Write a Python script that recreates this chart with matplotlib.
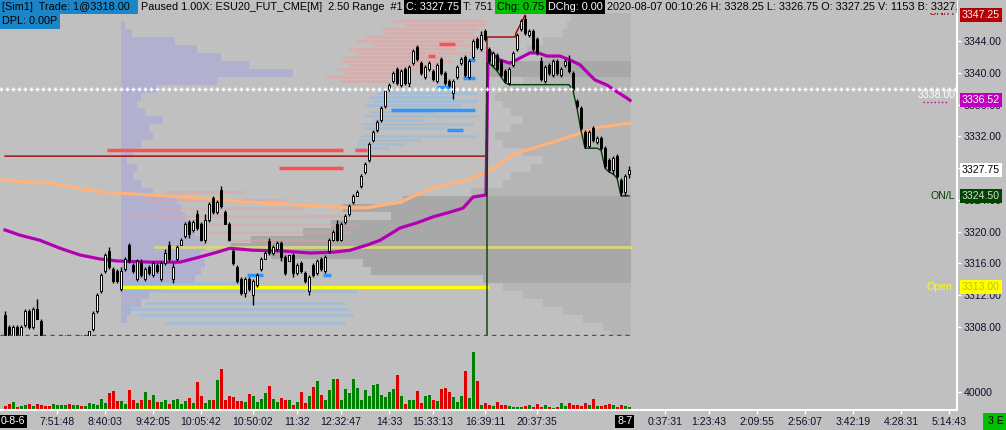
"""Range-bar chart of ESU20 with profiles, VWAP and volume pane"""
import numpy as np
import matplotlib
matplotlib.use("Agg")
import matplotlib.pyplot as plt
import matplotlib.transforms as mtransforms
from matplotlib.patches import Rectangle

plt.rcParams['font.family'] = ['Liberation Sans', 'DejaVu Sans']
plt.rcParams['font.size'] = 7.6

# ---------------- data ----------------
bar_open = [3309.5, 3308.0, 3306.5, 3308.0, 3306.5, 3308.25, 3310.0, 3308.0, 3310.25, 3308.75,
            3306.5, 3304.5, 3302.5, 3304.5, 3304.5, 3304.5, 3306.5, 3304.0, 3304.25, 3306.5,
            3304.5, 3305.25, 3307.75, 3310.0, 3312.5, 3315.0, 3317.5, 3315.25, 3315.0, 3312.75,
            3315.25, 3318.25, 3315.75, 3314.0, 3316.0, 3314.0, 3315.5, 3314.5, 3315.75, 3314.0,
            3316.0, 3318.25, 3314.0, 3316.5, 3318.25, 3319.5, 3321.25, 3320.25, 3322.25, 3321.0,
            3319.0, 3321.5, 3324.25, 3322.5, 3325.25, 3322.5, 3321.0, 3317.5, 3315.5, 3314.0,
            3312.25, 3314.0, 3312.0, 3313.25, 3315.25, 3316.5, 3318.75, 3317.25, 3317.75, 3318.5,
            3316.75, 3316.25, 3317.0, 3314.75, 3316.0, 3314.75, 3312.5, 3315.75, 3314.75, 3316.5,
            3315.0, 3317.5, 3319.0, 3321.0, 3319.0, 3321.25, 3322.25, 3323.75, 3324.5, 3325.75,
            3327.5, 3329.0, 3331.5, 3332.75, 3334.0, 3335.75, 3338.0, 3339.0, 3340.5, 3338.5,
            3340.5, 3338.75, 3341.25, 3343.25, 3341.25, 3339.5, 3340.5, 3340.25, 3339.0, 3341.75,
            3340.0, 3339.0, 3337.5, 3339.5, 3341.25, 3342.0, 3339.5, 3342.0, 3344.25, 3343.0,
            3345.25, 3343.0, 3341.0, 3342.25, 3341.5, 3340.25, 3338.75, 3341.0, 3343.0, 3345.5,
            3346.75, 3344.75, 3345.25, 3344.25, 3341.5, 3339.0, 3341.0, 3339.75, 3341.5, 3339.75,
            3341.0, 3341.5, 3340.0, 3336.5, 3335.5, 3332.5, 3330.75, 3333.0, 3331.25, 3331.75,
            3330.5, 3329.0, 3327.75, 3329.5, 3326.5, 3325.0, 3327.25]
bar_high = [3310.0, 3308.25, 3308.25, 3308.25, 3308.25, 3310.25, 3310.25, 3310.5, 3311.5, 3309.0,
            3306.75, 3304.75, 3304.75, 3306.5, 3306.75, 3307.0, 3306.5, 3306.25, 3306.75, 3307.0,
            3306.5, 3307.5, 3310.0, 3312.25, 3314.75, 3317.25, 3318.0, 3315.5, 3315.25, 3315.5,
            3316.75, 3318.5, 3316.0, 3316.5, 3316.5, 3315.5, 3315.75, 3316.25, 3316.0, 3316.25,
            3317.75, 3318.75, 3316.0, 3318.25, 3319.25, 3321.25, 3321.5, 3321.5, 3322.75, 3321.25,
            3322.25, 3323.75, 3324.5, 3324.0, 3325.75, 3322.75, 3321.25, 3317.75, 3315.75, 3314.25,
            3314.25, 3314.25, 3314.0, 3314.75, 3316.75, 3317.5, 3319.25, 3318.25, 3318.75, 3318.75,
            3317.0, 3317.0, 3317.25, 3316.0, 3316.25, 3315.0, 3314.5, 3316.0, 3316.5, 3316.75,
            3317.0, 3319.25, 3320.25, 3321.5, 3321.25, 3322.25, 3323.5, 3324.75, 3325.25, 3327.25,
            3328.75, 3331.25, 3332.75, 3334.0, 3335.75, 3338.0, 3338.75, 3340.25, 3340.75, 3340.5,
            3340.75, 3341.0, 3343.0, 3343.5, 3341.5, 3341.0, 3341.5, 3340.5, 3341.25, 3342.0,
            3340.25, 3339.25, 3339.25, 3341.0, 3342.0, 3342.25, 3341.75, 3344.25, 3344.5, 3345.25,
            3345.5, 3343.25, 3342.75, 3342.5, 3341.75, 3340.5, 3340.75, 3342.75, 3345.0, 3346.75,
            3347.25, 3345.5, 3345.5, 3344.5, 3342.0, 3341.0, 3341.25, 3341.75, 3341.75, 3340.75,
            3341.75, 3342.25, 3340.25, 3336.75, 3335.75, 3332.75, 3332.75, 3333.25, 3332.0, 3332.0,
            3330.75, 3329.25, 3329.5, 3329.75, 3326.75, 3327.25, 3328.25]
bar_low = [3306.75, 3306.25, 3306.25, 3306.25, 3306.25, 3308.0, 3307.75, 3307.75, 3309.0, 3306.5,
           3304.25, 3302.25, 3302.25, 3304.0, 3304.25, 3304.5, 3304.0, 3303.75, 3304.25, 3304.25,
           3304.25, 3305.0, 3307.5, 3309.75, 3312.25, 3314.75, 3315.25, 3313.5, 3313.5, 3312.5,
           3315.0, 3316.0, 3314.75, 3313.75, 3314.25, 3313.75, 3314.5, 3314.25, 3314.75, 3313.75,
           3315.75, 3316.25, 3313.5, 3316.25, 3318.25, 3319.25, 3319.25, 3320.0, 3320.25, 3318.75,
           3318.5, 3321.25, 3322.25, 3322.25, 3323.0, 3321.0, 3318.75, 3315.75, 3313.5, 3312.0,
           3311.75, 3312.5, 3310.75, 3313.0, 3315.0, 3316.5, 3317.0, 3317.0, 3317.5, 3316.25,
           3314.5, 3316.25, 3314.25, 3314.5, 3314.75, 3313.5, 3312.0, 3314.25, 3314.5, 3315.0,
           3314.75, 3317.25, 3318.75, 3318.75, 3318.75, 3321.0, 3322.0, 3323.5, 3324.5, 3325.5,
           3327.25, 3328.75, 3331.25, 3332.5, 3333.75, 3335.5, 3337.75, 3338.75, 3338.5, 3338.25,
           3338.5, 3338.25, 3341.0, 3341.5, 3339.75, 3339.25, 3340.25, 3339.0, 3338.75, 3339.75,
           3338.5, 3338.25, 3336.75, 3339.25, 3341.0, 3339.5, 3339.25, 3341.75, 3343.0, 3342.75,
           3344.0, 3341.25, 3340.75, 3340.25, 3339.5, 3338.75, 3338.5, 3340.75, 3342.75, 3345.25,
           3344.75, 3344.5, 3342.75, 3342.25, 3339.0, 3338.75, 3339.75, 3339.5, 3339.75, 3339.5,
           3340.75, 3340.0, 3337.75, 3335.5, 3332.75, 3330.5, 3330.5, 3331.25, 3331.0, 3330.25,
           3328.0, 3327.5, 3327.25, 3326.75, 3324.5, 3324.5, 3326.75]
bar_close = [3307.0, 3306.5, 3308.0, 3306.5, 3308.0, 3310.0, 3308.0, 3310.25, 3309.0, 3306.5,
             3304.5, 3302.25, 3304.5, 3306.25, 3306.5, 3306.75, 3304.25, 3306.0, 3306.5, 3304.5,
             3306.5, 3307.5, 3309.75, 3312.0, 3314.5, 3317.0, 3315.5, 3313.75, 3313.75, 3315.0,
             3316.5, 3316.25, 3315.0, 3316.25, 3314.5, 3315.25, 3314.75, 3316.0, 3315.0, 3316.0,
             3317.25, 3316.5, 3315.5, 3318.0, 3319.0, 3321.0, 3319.75, 3321.25, 3320.5, 3319.0,
             3321.5, 3323.5, 3322.5, 3323.75, 3323.25, 3321.0, 3319.0, 3316.0, 3313.75, 3312.25,
             3314.0, 3312.75, 3313.75, 3314.5, 3316.5, 3317.25, 3317.25, 3318.0, 3318.5, 3316.75,
             3314.75, 3317.0, 3314.75, 3315.75, 3315.0, 3313.75, 3314.25, 3314.5, 3316.25, 3315.25,
             3316.75, 3319.0, 3320.0, 3319.0, 3321.0, 3322.0, 3323.25, 3324.5, 3325.0, 3327.0,
             3328.5, 3331.0, 3332.5, 3333.75, 3335.5, 3337.75, 3338.5, 3340.0, 3338.75, 3340.25,
             3338.75, 3340.75, 3342.75, 3341.75, 3340.0, 3340.75, 3341.25, 3339.25, 3341.0, 3340.0,
             3338.75, 3338.5, 3339.0, 3340.75, 3341.75, 3339.75, 3341.5, 3344.0, 3343.25, 3344.75,
             3344.25, 3341.5, 3342.5, 3340.5, 3339.75, 3339.0, 3340.5, 3342.5, 3344.75, 3346.5,
             3345.0, 3345.25, 3343.0, 3342.5, 3339.25, 3340.75, 3340.0, 3341.5, 3340.0, 3340.5,
             3341.5, 3340.25, 3338.0, 3335.75, 3333.0, 3330.75, 3332.5, 3331.5, 3331.75, 3330.5,
             3328.25, 3327.75, 3329.25, 3327.0, 3325.0, 3327.0, 3327.75]
volume = [6900, 11500, 16100, 4600, 6900, 9200, 11500, 6900, 11500, 9200,
          6900, 6900, 11500, 9200, 9200, 9200, 11500, 9200, 9200, 6900,
          6900, 13800, 11500, 9200, 23000, 13800, 36800, 41400, 18400, 18400,
          11500, 43700, 20700, 13800, 20700, 39100, 20700, 32200, 16100, 16100,
          20700, 11500, 20700, 23000, 11500, 18400, 25300, 13800, 62100, 29900,
          13800, 20700, 20700, 66700, 92000, 20700, 29900, 27600, 18400, 18400,
          16100, 34500, 29900, 16100, 23000, 36800, 52900, 23000, 16100, 25300,
          20700, 20700, 9200, 16100, 39100, 13800, 29900, 50600, 64400, 32200,
          20700, 43700, 69000, 69000, 20700, 46000, 36800, 69000, 48300, 20700,
          43700, 29900, 55200, 57500, 32200, 27600, 39100, 46000, 78200, 29900,
          11500, 20700, 20700, 41400, 13800, 29900, 32200, 20700, 18400, 46000,
          48300, 39100, 27600, 16100, 29900, 87400, 25300, 131100, 64400, 9200,
          13800, 9200, 6900, 16100, 9200, 9200, 6900, 4600, 4600, 4600,
          6900, 9200, 4600, 11500, 4600, 9200, 4600, 2300, 4600, 13800,
          6900, 13800, 9200, 9200, 6900, 13800, 9200, 23000, 6900, 6900,
          9200, 11500, 9200, 4600, 9200, 6900, 4600]

session_break = 120.5

# slow average (peach) and VWAP (magenta), sampled at bar index
avg_idx = [-1.25, 11.25, 23.75, 36.25, 48.75, 61.25, 73.75, 85.5, 90.5, 98.75,
           107, 115.5, 120.5, 128, 136.25, 144.5, 148.75, 156.25]
avg_px = [3326.5, 3326.1, 3325.0, 3324.6, 3324.2, 3323.7, 3323.35, 3323.0, 3323.0, 3323.7,
          3325.5, 3326.5, 3327.5, 3329.9, 3331.15, 3332.5, 3333.15, 3333.65]
vwap_idx = [0, 3.75, 8.75, 13.75, 18.75, 23.75, 28, 36.25, 43.75, 48.75, 53, 56.25, 62,
            69.5, 76.25, 82, 86.25, 90.5, 93.75, 98.75, 103, 107, 111.25, 114.5, 117, 120.25,
            120.75, 121.25, 123.75, 126.25, 128.75, 131.25, 133.25, 135.5, 138.75, 141.25,
            143.75, 146.25, 147.5, 150.5, 153, 155.5, 156.25]
vwap_px = [3320.2, 3319.55, 3318.9, 3317.9, 3317.05, 3316.55, 3316.3, 3316.15, 3316.15, 3316.8,
           3317.4, 3317.9, 3317.65, 3317.55, 3317.3, 3317.4, 3317.65, 3318.3, 3318.9, 3320.45,
           3321.1, 3321.85, 3322.45, 3322.95, 3324.35, 3324.6, 3342.6, 3342.6, 3341.6, 3341.2,
           3341.85, 3342.5, 3342.5, 3342.1, 3342.1, 3341.6, 3341.0, 3339.7, 3339.1, 3338.45,
           3337.6, 3336.8, 3336.52]

# dark red high tracker
high_idx = [0, 120.25, 120.25, 120.5, 120.5, 127.5, 127.75, 129.5, 130]
high_px = [3329.5, 3329.5, 3331.25, 3331.25, 3344.5, 3344.5, 3345.0, 3346.75, 3347.25]

# key levels
open_px = 3313.00
trade_px = 3318.00
ref_px = 3338.00
on_high = 3347.25
on_low = 3324.50
vwap_last = 3336.52
last_px = 3327.75

# prior session volume profile (left anchored)
prior_prof_px = [3346, 3345, 3344, 3343, 3342, 3341, 3340, 3339, 3338, 3337, 3336, 3335, 3334,
                 3333, 3332, 3331, 3330, 3329, 3328, 3327, 3326, 3325, 3324, 3323, 3322, 3321,
                 3320, 3319, 3318, 3317, 3316, 3315, 3314, 3313, 3312, 3311, 3310, 3309]
prior_prof_vol = [1, 2.75, 13.5, 19, 25, 32, 43, 24, 9, 5, 4, 6, 10.5,
                  7, 8, 5, 3, 1.5, 4, 3, 5, 8, 14, 15, 16, 17,
                  18.5, 20, 21, 20, 21, 20, 18.5, 10, 7, 5, 2.5, 1.5]

# composite profile (right anchored), with value area flag
comp_prof_px = [3347, 3346, 3345, 3344, 3343, 3342, 3341, 3340, 3339, 3338, 3337, 3336, 3335,
                3334, 3333, 3332, 3331, 3330, 3329, 3328, 3327, 3326, 3325, 3324, 3323, 3322,
                3321, 3320, 3319, 3318, 3317, 3316, 3315, 3314, 3313, 3312, 3311, 3310, 3309,
                3308, 3307]
comp_prof_vol = [15, 16, 17, 22, 26, 22, 36, 36, 27, 32, 34, 32, 30,
                 27, 30, 34, 32, 27, 22, 25, 30, 32, 40, 57, 72, 60,
                 75, 82, 95, 100, 90, 67, 65, 37, 32, 27, 22, 17, 12,
                 7, 5]
comp_prof_va = [0, 0, 0, 0, 0, 0, 1, 1, 0, 0, 0, 0, 0,
                0, 0, 0, 0, 0, 0, 0, 0, 0, 0, 1, 1, 1,
                1, 1, 1, 1, 1, 1, 1, 1, 0, 0, 0, 0, 0,
                0, 0]

# faint order-flow history rows: (price, from bar, to bar)
ask_rows = [(3346.5, 97, 120), (3346.0, 100, 120), (3345.5, 94, 118), (3345.0, 95, 117),
            (3344.5, 90, 119), (3344.0, 88, 115), (3343.5, 92, 118), (3343.0, 86, 113),
            (3342.5, 88, 117), (3342.0, 85, 110), (3341.5, 84, 112), (3341.0, 86, 108),
            (3340.5, 83, 104), (3340.0, 85, 100), (3339.5, 80, 98), (3339.0, 84, 96),
            (3325.0, 40, 60), (3324.0, 35, 70), (3323.0, 38, 75), (3322.0, 30, 85),
            (3321.0, 45, 88), (3320.0, 50, 86), (3319.0, 55, 85)]
bid_rows = [(3337.5, 93, 118), (3337.0, 91, 112), (3336.5, 92, 118), (3336.0, 90, 114),
            (3335.0, 91, 108), (3334.5, 90, 118), (3334.0, 92, 105), (3333.5, 89, 117),
            (3333.0, 90, 110), (3332.0, 89, 118), (3331.5, 88, 104), (3331.0, 88, 100),
            (3330.5, 87, 96), (3313.5, 29, 60), (3312.5, 30, 88), (3311.0, 35, 85),
            (3310.25, 29, 86), (3309.5, 33, 87), (3308.5, 40, 85)]
ask_marks = [(3330.25, 25.5, 84.5), (3330.25, 87.5, 90.5), (3328.0, 68.5, 84.5),
             (3343.6, 108.5, 112.5), (3342.1, 105.75, 107.5)]
bid_marks = [(3335.25, 96.5, 117.5), (3332.75, 110.5, 114.5), (3339.3, 114.5, 117.5),
             (3341.6, 115.75, 117.5), (3338.2, 108, 112.5), (3314.5, 60.5, 64.5),
             (3314.5, 79.5, 81.5)]

price_ticks = [3308, 3312, 3316, 3320, 3324, 3328, 3332, 3336, 3340, 3344]
time_idx = [13, 25, 37, 49, 62, 73, 84, 96, 107, 120, 133, 165, 176, 188, 200, 212, 224, 236]
time_lbl = ['7:51:48', '8:40:03', '9:42:05', '10:05:42', '10:50:02', '11:32', '12:32:47',
            '14:33', '15:33:13', '16:39:11', '20:37:35', '0:37:31', '1:23:43', '2:09:55',
            '2:56:07', '3:42:19', '4:28:31', '5:14:43']

# ---------------- figure ----------------
W, H = 1006, 430
BG = '#c0c0c0'
TXT = '#10102c'
fig = plt.figure(figsize=(W / 100, H / 100), dpi=100, facecolor=BG)
ax = fig.add_axes([0, (H - 336) / H, 957 / W, 336 / H], facecolor=BG)
axv = fig.add_axes([0, (H - 409.5) / H, 957 / W, 73.5 / H], facecolor=BG, sharex=ax)

n = len(bar_close)
idx = np.arange(n)
o = np.array(bar_open)
hi = np.array(bar_high)
lo = np.array(bar_low)
c = np.array(bar_close)
up = c >= o

ax.set_xlim(-1.25, 238.0)
ax.set_ylim(3306.85, 3349.16)

# profiles
ax.barh(prior_prof_px, prior_prof_vol, left=29, height=1.0, color='#b1b1cf', zorder=1)
comp_col = ['#a8a8a8' if v else '#b5b5b5' for v in comp_prof_va]
ax.barh(comp_prof_px, -np.array(comp_prof_vol), left=156.5, height=1.0, color=comp_col, zorder=0.9)

# order-flow history
for p, a, b in ask_rows:
    ax.plot([a, b], [p, p], color='#f09a9a', alpha=0.45, lw=2, solid_capstyle='butt', zorder=1.5)
for p, a, b in bid_rows:
    ax.plot([a, b], [p, p], color='#8cbbe8', alpha=0.55, lw=2, solid_capstyle='butt', zorder=1.5)
for p, a, b in ask_marks:
    ax.plot([a, b], [p, p], color='#ff5050', lw=2.5, solid_capstyle='butt', zorder=2)
for p, a, b in bid_marks:
    ax.plot([a, b], [p, p], color='#2f96ff', lw=2.5, solid_capstyle='butt', zorder=2)

# levels
ax.plot([29, session_break], [open_px, open_px], color='#ffff00', lw=2.5, zorder=2.5)
ax.plot([37.5, 156.5], [trade_px, trade_px], color='#d6d67a', lw=2, zorder=2.5)
ax.plot(high_idx, high_px, color='#a00000', lw=1, zorder=2.6)
ref_x = np.arange(-1.0, 238.0, 1.5)
ax.plot(ref_x, np.full(ref_x.size, ref_px), ls='none', marker='+', ms=3.2, mew=1,
        color='white', zorder=6)

# peach average and VWAP
ax.plot(avg_idx, avg_px, color='#ffb27a', lw=2.3, zorder=3)
ax.plot(vwap_idx, vwap_px, color='#b400b4', lw=2.3, zorder=3.2)

# overnight low tracker
run_low = np.minimum.accumulate(lo[121:])
ax.plot(np.r_[session_break, session_break, idx[121:]],
        np.r_[3306.85, lo[121], run_low], color='#004000', lw=1, zorder=3.3)

# candles
ax.vlines(idx, lo, hi, color='black', lw=1, zorder=4)
body_h = np.maximum(np.abs(c - o), 0.12)
ax.bar(idx, body_h, bottom=np.minimum(o, c), width=0.72,
       color=np.where(up, 'white', 'black'), edgecolor='black', lw=0.7, zorder=4.5)

# bottom dashed separator
ax.plot([-1.25, 156.5], [3306.95, 3306.95], color='#505050', lw=1, dashes=(3, 3), zorder=5)

# price axis
for s in ['top', 'left', 'bottom']:
    ax.spines[s].set_visible(False)
ax.spines['right'].set_color('white')
ax.spines['right'].set_linewidth(1.5)
ax.yaxis.tick_right()
ax.set_yticks(price_ticks)
ax.set_yticklabels([f'{t:.2f}' for t in price_ticks])
ax.tick_params(axis='y', colors='white', labelcolor=TXT, length=3, width=1, pad=1.5, labelsize=7.6)
ax.tick_params(axis='x', bottom=False, labelbottom=False)

# right axis value boxes
bt = mtransforms.blended_transform_factory(fig.transFigure, ax.transData)
tags = [(on_high, '#b40000', '#f4f4f4'), (vwap_last, '#c000c0', 'white'),
        (last_px, 'white', 'black'), (on_low, '#004400', '#d8d8d8'), (open_px, '#ffff00', '#c4c400')]
for p, fc, tc in tags:
    ax.add_patch(Rectangle((960 / W, p - 0.88), 42 / W, 1.76, transform=bt, fc=fc, ec='none',
                           clip_on=False, zorder=20))
    ax.text(961.5 / W, p, f'{p:.2f}', transform=bt, color=tc, va='center', ha='left',
            fontsize=7.6, clip_on=False, zorder=21)

ax.text(237.5, ref_px - 0.8, f'{ref_px:.2f}', color='white', ha='right', va='center', fontsize=7.6, zorder=7)
ax.plot([229.5, 235.75], [vwap_last - 0.15] * 2, color='#b400b4', lw=1, ls=':', zorder=7)
ax.text(237.5, on_low, 'ON/L', color='#004400', ha='right', va='center', fontsize=7.6, zorder=7)
ax.text(236.8, open_px, 'Open', color='#ffff00', ha='right', va='center', fontsize=7.6, zorder=7)
ax.text(237.5, on_high + 0.45, 'ON/H', color='#a00000', ha='right', va='center', fontsize=7.6,
        zorder=7, clip_on=False)

# volume pane
axv.bar(idx, volume, width=0.75, color=np.where(up, '#008000', '#e00000'), zorder=2)
axv.set_ylim(0, 169000)
for s in ['top', 'left']:
    axv.spines[s].set_visible(False)
for s in ['right', 'bottom']:
    axv.spines[s].set_color('white')
    axv.spines[s].set_linewidth(1.5)
axv.yaxis.tick_right()
axv.set_yticks([40000])
axv.set_yticklabels(['40000'])
axv.tick_params(axis='y', colors='white', labelcolor=TXT, length=3, width=1, pad=1.5, labelsize=7.6)
axv.set_xticks(time_idx)
axv.set_xticklabels(time_lbl)
axv.tick_params(axis='x', colors='white', labelcolor=TXT, length=3, width=1, pad=2.5, labelsize=7.6)

# date markers on the time axis
fig.text(0.5 / W, 1 - 421.5 / H, '0-8-6', color='white', fontsize=7.6, va='center', ha='left',
         bbox=dict(boxstyle='square,pad=0.15', fc='black', ec='none'))
fig.text(617 / W, 1 - 421.5 / H, '8-7', color='white', fontsize=7.6, va='center', ha='left',
         bbox=dict(boxstyle='square,pad=0.15', fc='black', ec='none'))
fig.add_artist(Rectangle((983 / W, 0), 23 / W, 17 / H, transform=fig.transFigure,
                         fc='#00c000', ec='none'))
fig.text(988 / W, 1 - 421.5 / H, '3 E', color='black', fontsize=7.6, va='center', ha='left')

# header band
fig.add_artist(Rectangle((0, 1 - 13 / H), 957 / W, 13 / H, transform=fig.transFigure,
                         fc=BG, ec='none', zorder=5))
header = [
    (2, 7, '[Sim1]  Trade: 1@3318.00', 'black', '#1a86c8', 0, 138),
    (141, 7, 'Paused 1.00X: ESU20_FUT_CME[M]  2.50 Range  #1', 'black', None, 0, 0),
    (406, 7, 'C: 3327.75', 'white', 'black', 404, 461),
    (463, 7, 'T: 751', 'black', None, 0, 0),
    (497, 7, 'Chg: 0.75', 'black', '#00c000', 495, 546),
    (548, 7, 'DChg: 0.00', 'white', 'black', 546, 605),
    (607, 7, '2020-08-07 00:10:26 H: 3328.25 L: 3326.75 O: 3327.25 V: 1153 B: 3327.75', 'black', None, 0, 0),
    (2, 21.5, 'DPL: 0.00P', 'black', '#1a86c8', 0, 60),
]
clip = mtransforms.TransformedBbox(mtransforms.Bbox([[0, 0], [957 / W, 1]]), fig.transFigure)
for x, y, s, tc, fc, b0, b1 in header:
    if fc:
        fig.add_artist(Rectangle((b0 / W, 1 - (y + 7) / H), (b1 - b0) / W, 14 / H,
                                 transform=fig.transFigure, fc=fc, ec='none', zorder=6))
    t = fig.text(x / W, 1 - y / H, s, color=tc, fontsize=7.8, va='center', ha='left', zorder=7)
    t.set_clip_box(clip)
    t.set_clip_on(True)

fig.savefig('out.png', dpi=100, facecolor=BG)
